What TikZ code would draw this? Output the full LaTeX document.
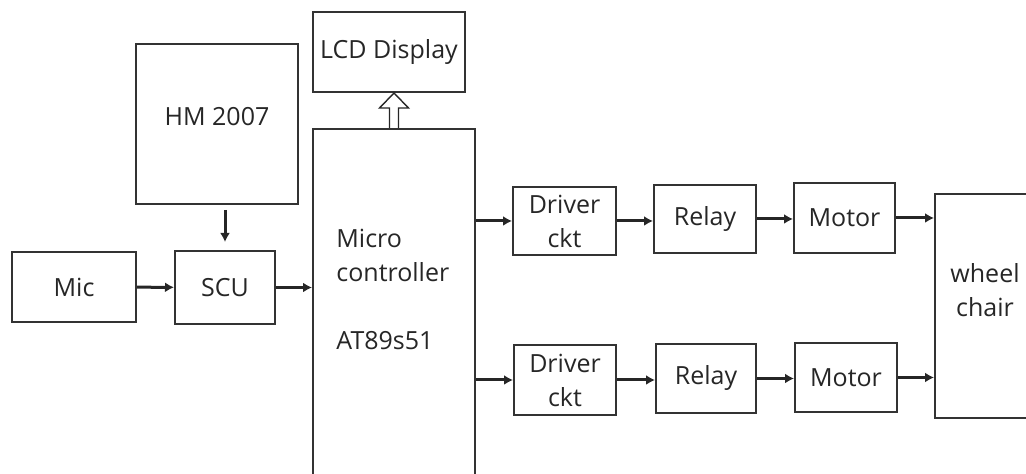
\documentclass[tikz,border=0pt]{standalone}
\usepackage{fontspec}
\setmainfont{Open Sans}
\usetikzlibrary{positioning,arrows.meta,calc}
\tikzset{
  blk/.style 2 args={draw=black!80,line width=1pt,minimum width=#1,minimum height=#2,
    inner sep=0pt,align=center,font=\fontsize{12.5}{17}\selectfont,text=black!85},
  txt/.style={inner sep=0pt,font=\fontsize{12.5}{17}\selectfont,text=black!85},
  conn/.style={line width=1.5pt,draw=black!85,-{Latex[length=4.5pt,width=5pt]}},
  hollow/.style={draw=black!85,line width=0.7pt,fill=white,line join=miter},
}
\begin{document}
\begin{tikzpicture}[x=0.5pt,y=-0.5pt]
  \clip (0,0) rectangle (1026,474);
  % 블록
  \node[blk={76pt}{40pt}] (lcd) at (389,52) {LCD Display};
  \node[blk={81pt}{190pt}] (mcu) at (394,319) {};
  \node[txt,anchor=north west,align=left] (mcutxt) at (336,229) {Micro\\controller\\[17pt]AT89s51};
  \node[blk={81pt}{80pt}] (hm) at (217,124) {\raisebox{8pt}{HM 2007}};
  \node[blk={62pt}{35pt}] (mic) at (74,287) {Mic};
  \node[blk={50pt}{36.5pt}] (scu) at (225,287.5) {SCU};
  \node[blk={51.5pt}{34pt}] (drv1) at (564.5,221) {Driver\\ckt};
  \node[blk={51pt}{34pt}] (rly1) at (705,219) {Relay};
  \node[blk={50.5pt}{35pt}] (mot1) at (844.5,218) {Motor};
  \node[blk={51pt}{35pt}] (drv2) at (565,380) {Driver\\ckt};
  \node[blk={50pt}{34.5pt}] (rly2) at (706,378.5) {Relay};
  \node[blk={51pt}{34.5pt}] (mot2) at (846,377.5) {Motor};
  \node[blk={50pt}{112pt}] (wc) at (985,306) {};
  \node[txt,align=center] (wctxt) at (985,290) {wheel\\chair};
  % 연결
  \draw[conn,shorten <=2.5pt,shorten >=4pt] (hm.south -| scu) -- (scu.north);
  \draw[conn] (mic) -- (scu);
  \draw[conn] (scu) -- (scu -| mcu.west);
  % 속이 빈 화살표 (mcu -> lcd)
  \draw[hollow] (mcu.north) ++(-4.5,0) -- ++(0,-20) -- ++(-10,0) -- (mcu.north |- lcd.south)
    -- ($(mcu.north)+(14.5,-20)$) -- ++(-10,0) -- ++(0,20);
  \foreach \r in {1,2} {
    \draw[conn] (drv\r -| mcu.east) -- (drv\r.west);
    \draw[conn] (drv\r.east) -- (drv\r.east -| rly\r.west);
    \draw[conn] (rly\r.east) -- (rly\r.east -| mot\r.west);
    \draw[conn] (mot\r.east) -- (mot\r.east -| wc.west);
  }
\end{tikzpicture}
\end{document}
